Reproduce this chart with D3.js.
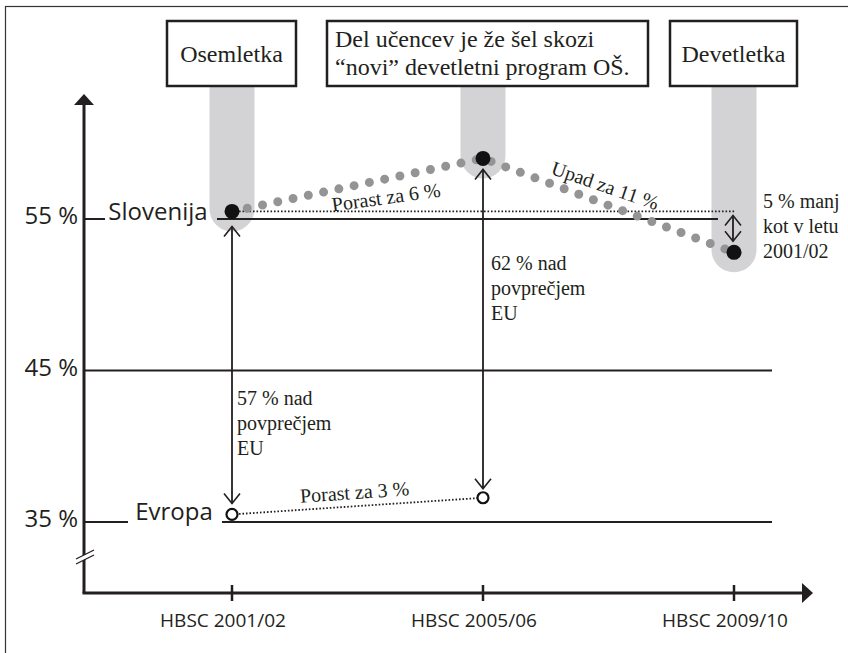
<!DOCTYPE html>
<html>
<head>
<meta charset="utf-8">
<script src="https://cdn.jsdelivr.net/npm/d3@7"></script>
<style>
	body { margin: 0; background: #fff; }
	svg { display: block; }
	.sans { font-family: "Open Sans", sans-serif; fill: #231f20; }
	.serif { font-family: "Liberation Serif", "Times New Roman", serif; fill: #231f20; }
</style>
</head>
<body>
<div id="chart"></div>
<script>
// data
var periods = ["HBSC 2001/02", "HBSC 2005/06", "HBSC 2009/10"];
var slovenia = [55.5, 59.0, 52.8];
var europe = [35.5, 36.6];
var yTicks = [35, 45, 55];
var boxLabels = [["Osemletka"], ["Del učencev je že šel skozi", "“novi” devetletni program OŠ."], ["Devetletka"]];
var changeLabels = ["Porast za 6 %", "Upad za 11 %", "Porast za 3 %"];
var gapLabels = [["57 % nad", "povprečjem", "EU"], ["62 % nad", "povprečjem", "EU"]];
var dropLabel = ["5 % manj", "kot v letu", "2001/02"];

var W = 848, H = 653;
var axisX = 84, axisY = 593;

var svg = d3.select('#chart').append('svg')
	.attr('width', W)
	.attr('height', H);

var x = d3.scalePoint().domain(periods).range([232, 734]);
var y = d3.scaleLinear().domain([35, 55]).range([522, 219]);

// markers
var defs = svg.append('defs');
defs.append('marker')
	.attr('id', 'open-arrow')
	.attr('viewBox', '-12 -10 14 20')
	.attr('markerUnits', 'userSpaceOnUse')
	.attr('markerWidth', 14)
	.attr('markerHeight', 20)
	.attr('refX', 0)
	.attr('refY', 0)
	.attr('orient', 'auto-start-reverse')
	.append('path')
		.attr('d', 'M-10,-8L0,0L-10,8')
		.attr('fill', 'none')
		.attr('stroke', '#231f20')
		.attr('stroke-width', 1.6);

// frame
svg.append('rect')
	.attr('x', 5.5).attr('y', 6.5)
	.attr('width', 900).attr('height', 900)
	.attr('fill', 'none')
	.attr('stroke', '#333')
	.attr('stroke-width', 1.2);

// grey capsules under the boxes
svg.selectAll('.capsule')
	.data(slovenia)
	.enter().append('rect')
		.attr('class', 'capsule')
		.attr('x', function(d, i) { return x(periods[i]) - 22.5; })
		.attr('y', 40)
		.attr('width', 45)
		.attr('height', function(d) { return y(d) + 20 - 40; })
		.attr('rx', 22.5)
		.attr('fill', '#d3d3d5');

// boxes
var boxes = [[167, 296], [327, 648], [670, 797]];
var boxG = svg.selectAll('.box')
	.data(boxLabels)
	.enter().append('g')
		.attr('class', 'box');
boxG.append('rect')
	.attr('x', function(d, i) { return boxes[i][0]; })
	.attr('y', 21)
	.attr('width', function(d, i) { return boxes[i][1] - boxes[i][0]; })
	.attr('height', 65)
	.attr('fill', '#fff')
	.attr('stroke', '#231f20')
	.attr('stroke-width', 2.5);
boxG.each(function(lines, i) {
	var g = d3.select(this);
	if (lines.length == 1) {
		g.append('text')
			.attr('class', 'serif')
			.attr('x', (boxes[i][0] + boxes[i][1]) / 2)
			.attr('y', 62)
			.attr('text-anchor', 'middle')
			.style('font-size', '24px')
			.text(lines[0]);
	} else {
		g.selectAll('text').data(lines).enter().append('text')
			.attr('class', 'serif')
			.attr('x', boxes[i][0] + 8)
			.attr('y', function(d, j) { return 47 + j * 28; })
			.style('font-size', '24px')
			.text(function(d) { return d; });
	}
});

// horizontal reference lines
function hline(x1, x2, yy, w) {
	svg.append('line')
		.attr('x1', x1).attr('x2', x2)
		.attr('y1', yy).attr('y2', yy)
		.attr('stroke', '#231f20')
		.attr('stroke-width', w || 2);
}
hline(axisX, 105, y(55));
hline(217, 718, y(55));
hline(axisX, 772, y(45));
hline(axisX, 128, y(35));
hline(222, 772, y(35));

// y tick labels
svg.selectAll('.ylab')
	.data(yTicks)
	.enter().append('text')
		.attr('class', 'sans ylab')
		.attr('x', 78)
		.attr('y', function(d) { return y(d) + 5; })
		.attr('text-anchor', 'end')
		.style('font-size', '24px')
		.text(function(d) { return d + ' %'; });

svg.append('text').attr('class', 'sans')
	.attr('x', 158).attr('y', y(55) + 1)
	.attr('text-anchor', 'middle')
	.style('font-size', '24px')
	.text('Slovenija');
svg.append('text').attr('class', 'sans')
	.attr('x', 174).attr('y', y(35) - 2)
	.attr('text-anchor', 'middle')
	.style('font-size', '24px')
	.text('Evropa');

// axes
svg.append('line')
	.attr('x1', axisX).attr('x2', axisX)
	.attr('y1', axisY).attr('y2', 104)
	.attr('stroke', '#231f20').attr('stroke-width', 3);
svg.append('path')
	.attr('d', 'M' + (axisX - 10) + ',105L' + axisX + ',94L' + (axisX + 10) + ',105Z')
	.attr('fill', '#231f20');
svg.append('line')
	.attr('x1', axisX - 1.5).attr('x2', 803)
	.attr('y1', axisY).attr('y2', axisY)
	.attr('stroke', '#231f20').attr('stroke-width', 3);
svg.append('path')
	.attr('d', 'M802,' + (axisY - 10) + 'L813,' + axisY + 'L802,' + (axisY + 10) + 'Z')
	.attr('fill', '#231f20');

// axis break
svg.append('path')
	.attr('d', 'M76,559L94,550L94,555L76,564Z')
	.attr('fill', '#fff');
svg.append('line').attr('x1', 76).attr('y1', 559).attr('x2', 94).attr('y2', 550)
	.attr('stroke', '#231f20').attr('stroke-width', 1.3);
svg.append('line').attr('x1', 76).attr('y1', 564).attr('x2', 94).attr('y2', 555)
	.attr('stroke', '#231f20').attr('stroke-width', 1.3);

// x ticks and labels
svg.selectAll('.xtick')
	.data(periods)
	.enter().append('line')
		.attr('class', 'xtick')
		.attr('x1', function(d) { return x(d); })
		.attr('x2', function(d) { return x(d); })
		.attr('y1', axisY - 8).attr('y2', axisY + 8)
		.attr('stroke', '#231f20').attr('stroke-width', 2.5);
svg.selectAll('.xlab')
	.data(periods)
	.enter().append('text')
		.attr('class', 'sans xlab')
		.attr('x', function(d) { return x(d) - 9; })
		.attr('y', 627)
		.attr('text-anchor', 'middle')
		.style('font-size', '19px')
		.text(function(d) { return d; });

// thin dotted reference lines
svg.append('line')
	.attr('x1', x(periods[0])).attr('x2', 735)
	.attr('y1', y(slovenia[0])).attr('y2', y(slovenia[0]))
	.attr('stroke', '#231f20').attr('stroke-width', 1.8)
	.attr('stroke-dasharray', '1.6 1.9');
svg.append('line')
	.attr('x1', x(periods[0])).attr('x2', x(periods[1]))
	.attr('y1', y(europe[0])).attr('y2', y(europe[1]))
	.attr('stroke', '#231f20').attr('stroke-width', 1.8)
	.attr('stroke-dasharray', '1.6 1.9');

// big grey dotted trend for Slovenia
var line = d3.line()
	.x(function(d, i) { return x(periods[i]); })
	.y(function(d) { return y(d); });
svg.append('path')
	.datum(slovenia)
	.attr('d', line)
	.attr('fill', 'none')
	.attr('stroke', '#949494')
	.attr('stroke-width', 9)
	.attr('stroke-linecap', 'round')
	.attr('stroke-dasharray', '0 15.6');

// vertical double arrows
function varrow(xx, y1, y2) {
	svg.append('line')
		.attr('x1', xx).attr('x2', xx)
		.attr('y1', y1).attr('y2', y2)
		.attr('stroke', '#231f20')
		.attr('stroke-width', 1.8)
		.attr('marker-start', 'url(#open-arrow)')
		.attr('marker-end', 'url(#open-arrow)');
}
varrow(x(periods[0]), y(slovenia[0]) + 15, y(europe[0]) - 11);
varrow(x(periods[1]), y(slovenia[1]) + 11, y(europe[1]) - 9);
varrow(733, y(slovenia[0]) + 4, y(slovenia[2]) - 11);

// points
svg.selectAll('.slo')
	.data(slovenia)
	.enter().append('circle')
		.attr('class', 'slo')
		.attr('cx', function(d, i) { return x(periods[i]); })
		.attr('cy', function(d) { return y(d); })
		.attr('r', 7.5)
		.attr('fill', '#111');
svg.selectAll('.eu')
	.data(europe)
	.enter().append('circle')
		.attr('class', 'eu')
		.attr('cx', function(d, i) { return x(periods[i]); })
		.attr('cy', function(d) { return y(d); })
		.attr('r', 5.5)
		.attr('fill', '#fff')
		.attr('stroke', '#111')
		.attr('stroke-width', 2.2);

// rotated change labels
var changePos = [[387, 204, -8], [603, 192, 19], [355, 499, -4]];
svg.selectAll('.chg')
	.data(changeLabels)
	.enter().append('text')
		.attr('class', 'serif chg')
		.attr('text-anchor', 'middle')
		.attr('transform', function(d, i) {
			return 'translate(' + changePos[i][0] + ',' + changePos[i][1] + ') rotate(' + changePos[i][2] + ')';
		})
		.style('font-size', '20px')
		.text(function(d) { return d; });

// multi-line notes
function note(lines, xx, yy) {
	svg.append('g').selectAll('text')
		.data(lines)
		.enter().append('text')
			.attr('class', 'serif')
			.attr('x', xx)
			.attr('y', function(d, j) { return yy + j * 25; })
			.style('font-size', '20px')
			.text(function(d) { return d; });
}
note(gapLabels[0], 237, 405);
note(gapLabels[1], 491, 270);
note(dropLabel, 763, 208);
</script>
</body>
</html>
